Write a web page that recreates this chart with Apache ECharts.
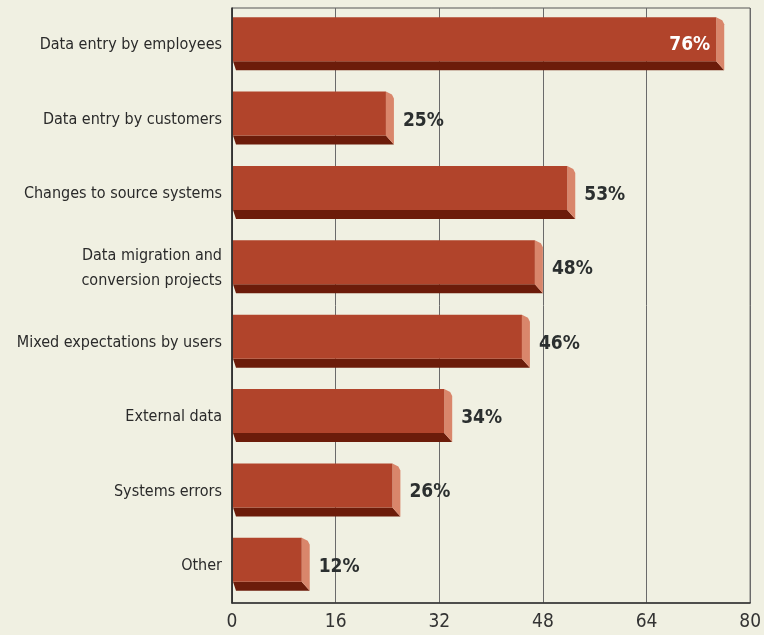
<!DOCTYPE html>
<html><head><meta charset="utf-8">
<script src="https://cdn.jsdelivr.net/npm/echarts@6/dist/echarts.min.js"></script>
<style>html,body{margin:0;padding:0;background:#f0f0e2;}#c{width:764px;height:635px;}</style>
</head><body><div id="c"></div>
<script>
const categories = ["Data entry by employees","Data entry by customers","Changes to source systems","Data migration and\nconversion projects","Mixed expectations by users","External data","Systems errors","Other"];
const values = [76,25,53,48,46,34,26,12];
const valueLabels = ["76%","25%","53%","48%","46%","34%","26%","12%"];
const xTicks = [0,16,32,48,64,80];

const FONT = '"Liberation Sans Narrow","DejaVu Sans Condensed",sans-serif';
const chart = echarts.init(document.getElementById('c'));
chart.setOption({
  backgroundColor:'#f0f0e2',
  animation:false,
  grid:{left:232,right:12,top:8,bottom:32,show:true,borderColor:'#555',borderWidth:1,backgroundColor:'transparent'},
  xAxis:{type:'value',min:xTicks[0],max:xTicks[xTicks.length-1],interval:16,
    axisLine:{show:true,lineStyle:{color:'#333',width:1.5}},axisTick:{show:false},
    splitLine:{show:true,lineStyle:{color:'#6a6a6a',width:1}},
    axisLabel:{color:'#333',fontFamily:FONT,fontSize:19,margin:10}},
  yAxis:{type:'category',data:categories,inverse:true,
    axisLine:{show:true,lineStyle:{color:'#222',width:1.5}},axisTick:{show:false},
    axisLabel:{color:'#2a2a2a',fontFamily:FONT,fontSize:16,margin:10,lineHeight:25}},
  series:[{
    type:'custom',
    data:values.map((v,i)=>[v,i]),
    renderItem:function(params,api){
      const v=api.value(0), idx=api.value(1);
      const p0=api.coord([0,idx]);
      const pv=api.coord([v,idx]);
      const c=p0[1];
      const d=8;
      const x0=p0[0]+1, x1=pv[0]-d;
      const ft=c-28, fb=c+16, sb=c+25;
      const i=params.dataIndex;
      const inside = i===0;
      return {type:'group',children:[
        {type:'polygon',shape:{points:[[x0,fb],[x1,fb],[x1+d,sb],[x0+3,sb]]},style:{fill:'#6c1c0a'}},
        {type:'polygon',shape:{points:[[x1,ft],[x1+d-2,ft+3],[x1+d,ft+7],[x1+d,sb],[x1,fb]]},style:{fill:'#d9866b'}},
        {type:'rect',shape:{x:x0,y:ft,width:x1-x0,height:fb-ft},style:{fill:'#b1442b'}},
        {type:'text',style:{text:valueLabels[i],x:inside?x1-6:pv[0]+9,y:inside?c:c+1,align:inside?'right':'left',verticalAlign:'middle',
          fill:inside?'#ffffff':'#2b2f2f',font:'bold 19px '+FONT}}
      ]};
    }
  }]
});
</script></body></html>
